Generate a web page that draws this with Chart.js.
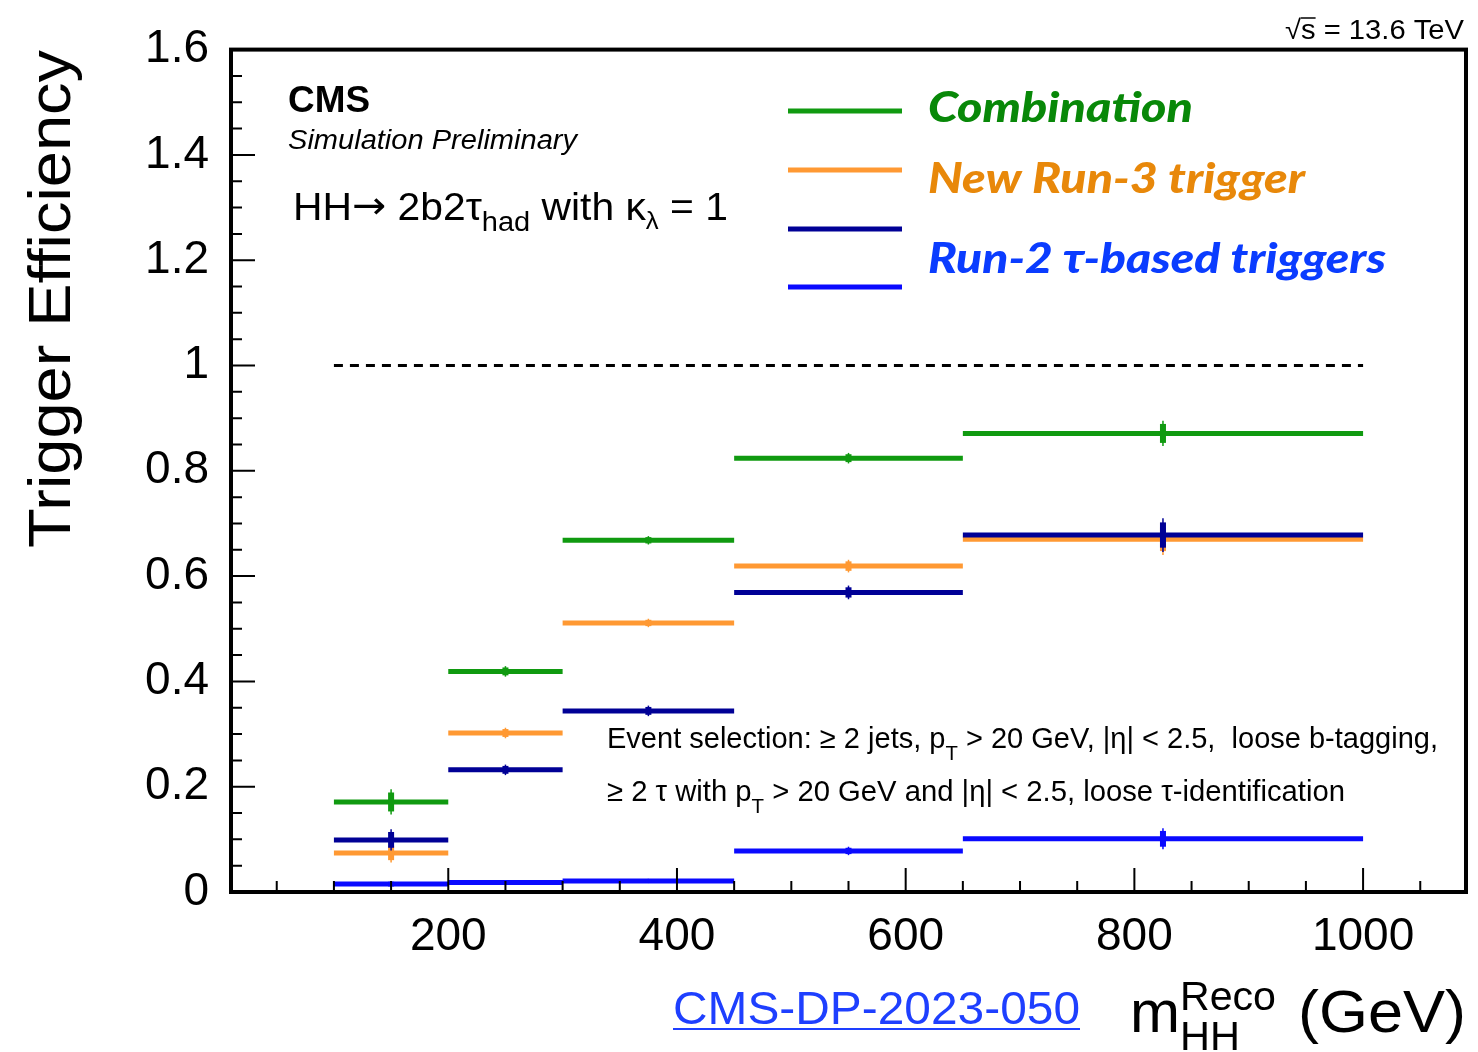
<!DOCTYPE html>
<html>
<head>
<meta charset="utf-8">
<script src="https://cdn.jsdelivr.net/npm/chart.js@4.4.0/dist/chart.umd.min.js"></script>
<style>
  html, body { margin: 0; padding: 0; background: #fff; }
  canvas { display: block; }
</style>
</head>
<body>
<canvas id="trigEff" width="1478" height="1052"></canvas>
<script>
// m_HH bin edges (GeV)
const binEdges = [100, 200, 300, 450, 650, 1000];

// efficiencies per bin
const combination = [0.171, 0.419, 0.668, 0.824, 0.871];
const newRun3     = [0.074, 0.302, 0.511, 0.619, 0.670];
const run2Dark    = [0.099, 0.232, 0.344, 0.569, 0.678];
const run2Tau     = [0.015, 0.018, 0.021, 0.078, 0.101];

// stat. uncertainties per bin
const combinationErr = [0.024, 0.010, 0.008, 0.010, 0.024];
const newRun3Err     = [0.018, 0.010, 0.008, 0.012, 0.030];
const run2DarkErr    = [0.020, 0.010, 0.010, 0.013, 0.032];
const run2TauErr     = [0.006, 0.004, 0.004, 0.008, 0.020];

const unity = 1;
const xRange = [10, 1090];
const yRange = [0, 1.6];

const green = '#109a10';
const orange = '#ff9933';
const navy = '#000096';
const blue = '#0a0aff';

// turn bins into step segments, broken with nulls between bins
function steps(vals) {
  const pts = [];
  vals.forEach((v, i) => {
    pts.push({x: binEdges[i], y: v});
    pts.push({x: binEdges[i + 1], y: v});
    pts.push({x: binEdges[i + 1], y: null});
  });
  return pts;
}

function histo(label, vals, errs, color, order) {
  return {
    label: label,
    data: steps(vals),
    errs: errs,
    vals: vals,
    borderColor: color,
    borderWidth: 5,
    borderCapStyle: 'butt',
    pointRadius: 0,
    tension: 0,
    spanGaps: false,
    order: order
  };
}

const sans = '"Liberation Sans", Arial, Helvetica, sans-serif';

// error bars for each histogram, drawn right after its line
const errorBars = {
  id: 'errorBars',
  afterDatasetDraw(chart, args) {
    const ds = chart.data.datasets[args.index];
    if (!ds.errs) return;
    const {ctx, scales: {x, y}} = chart;
    ctx.save();
    ctx.strokeStyle = ds.borderColor;
    ctx.fillStyle = ds.borderColor;
    ds.vals.forEach((v, i) => {
      const cx = x.getPixelForValue((binEdges[i] + binEdges[i + 1]) / 2);
      const e = ds.errs[i];
      const yHi = y.getPixelForValue(v + e), yLo = y.getPixelForValue(v - e);
      ctx.lineWidth = 1.5;
      ctx.beginPath();
      ctx.moveTo(cx, yHi);
      ctx.lineTo(cx, yLo);
      ctx.stroke();
      const iHi = y.getPixelForValue(v + 0.75 * e), iLo = y.getPixelForValue(v - 0.75 * e);
      ctx.fillRect(cx - 3, iHi, 6, iLo - iHi);
    });
    ctx.restore();
  }
};

// draws text segments (with sub/superscripts), optionally squeezed to a width
function rich(ctx, segs, x, y, width, align) {
  let total = 0;
  segs.forEach(s => { ctx.font = s.font; s.w = ctx.measureText(s.t).width; total += s.w; });
  const sx = width ? width / total : 1;
  ctx.save();
  let x0 = x;
  if (align === 'right') x0 = x - total * sx;
  ctx.translate(x0, y);
  ctx.scale(sx, 1);
  ctx.textAlign = 'left';
  ctx.textBaseline = 'alphabetic';
  let cx = 0;
  segs.forEach(s => {
    ctx.font = s.font;
    ctx.fillStyle = s.color || '#000';
    ctx.fillText(s.t, cx, s.dy || 0);
    if (s.over) {
      ctx.lineWidth = 1.5;
      ctx.strokeStyle = ctx.fillStyle;
      ctx.beginPath();
      ctx.moveTo(cx, s.over);
      ctx.lineTo(cx + s.w, s.over);
      ctx.stroke();
    }
    cx += s.w;
  });
  ctx.restore();
  return total * sx;
}

// frame, inward ticks, legend and annotations
const decor = {
  id: 'decor',
  afterDraw(chart) {
    const {ctx, chartArea: a, scales: {x, y}} = chart;
    ctx.save();
    ctx.strokeStyle = '#000';

    // ticks
    ctx.lineWidth = 2;
    ctx.beginPath();
    for (let v = 50; v < xRange[1]; v += 50) {
      const px = x.getPixelForValue(v);
      const len = v % 200 === 0 ? 24 : 11;
      ctx.moveTo(px, a.bottom);
      ctx.lineTo(px, a.bottom - len);
    }
    for (let k = 1; k < 32; k++) {
      const py = y.getPixelForValue(k * 0.05);
      const len = k % 4 === 0 ? 24 : 11;
      ctx.moveTo(a.left, py);
      ctx.lineTo(a.left + len, py);
    }
    ctx.stroke();

    // frame
    ctx.lineWidth = 4;
    ctx.strokeRect(a.left, a.top, a.right - a.left, a.bottom - a.top);

    // legend
    const legend = [
      {color: green, text: 'Combination', tc: '#088808', ty: 122, tw: 265},
      {color: orange, text: 'New Run-3 trigger', tc: '#e8880a', ty: 193, tw: 377},
      {color: navy},
      {color: blue, text: 'Run-2 \u03c4-based triggers', tc: '#0a3cff', ty: 273, tw: 458}
    ];
    const ly = [111, 170, 229, 287];
    legend.forEach((l, i) => {
      ctx.strokeStyle = l.color;
      ctx.lineWidth = 5;
      ctx.beginPath();
      ctx.moveTo(788, ly[i]);
      ctx.lineTo(902, ly[i]);
      ctx.stroke();
      if (l.text) {
        rich(ctx, [{t: l.text, font: 'italic 900 42px Lato, "Open Sans", sans-serif', color: l.tc}], 928, l.ty, l.tw);
      }
    });

    // CMS label
    rich(ctx, [{t: 'CMS', font: 'bold 37px ' + sans}], 288, 112, 82);
    rich(ctx, [{t: 'Simulation Preliminary', font: 'italic 27px ' + sans}], 288, 149, 289);
    rich(ctx, [
      {t: 'HH', font: '38px ' + sans},
      {t: '\u2192', font: '38px "DejaVu Sans", sans-serif', dy: -2},
      {t: ' 2b2\u03c4', font: '38px ' + sans},
      {t: 'had', font: '27px ' + sans, dy: 11},
      {t: ' with \u03ba', font: '38px ' + sans},
      {t: '\u03bb', font: '24px ' + sans, dy: 9},
      {t: ' = 1', font: '38px ' + sans}
    ], 293, 220, 435);

    // selection text
    const f1 = '30px ' + sans, f2 = '21px ' + sans;
    rich(ctx, [
      {t: 'Event selection: \u2265 2 jets, p', font: f1},
      {t: 'T', font: f2, dy: 12},
      {t: ' > 20 GeV, |\u03b7| < 2.5,  loose b-tagging,', font: f1}
    ], 607, 748, 831);
    rich(ctx, [
      {t: '\u2265 2 \u03c4 with p', font: f1},
      {t: 'T', font: f2, dy: 12},
      {t: ' > 20 GeV and |\u03b7| < 2.5, loose \u03c4-identification', font: f1}
    ], 607, 801, 738);

    // energy
    rich(ctx, [
      {t: '\u221a', font: '27px ' + sans},
      {t: 's', font: '27px ' + sans, over: -21},
      {t: ' = 13.6 TeV', font: '27px ' + sans}
    ], 1285, 39, 179);

    // y title
    ctx.save();
    ctx.translate(70, 548);
    ctx.rotate(-Math.PI / 2);
    rich(ctx, [{t: 'Trigger Efficiency', font: '60px ' + sans}], 0, 0, 498);
    ctx.restore();

    // x title and reference
    const lw = rich(ctx, [{t: 'CMS-DP-2023-050', font: '46px ' + sans, color: '#1e3fff'}], 673, 1024, 407);
    ctx.strokeStyle = '#1e3fff';
    ctx.lineWidth = 2;
    ctx.beginPath();
    ctx.moveTo(673, 1029);
    ctx.lineTo(673 + lw, 1029);
    ctx.stroke();

    const mx = 1130, by = 1032;
    ctx.font = '60px ' + sans;
    ctx.fillStyle = '#000';
    ctx.textAlign = 'left';
    ctx.fillText('m', mx, by);
    const mw = ctx.measureText('m').width;
    rich(ctx, [{t: 'Reco', font: '40px ' + sans}], mx + mw, by - 22, 96);
    rich(ctx, [{t: 'HH', font: '40px ' + sans}], mx + mw, by + 18, 60);
    rich(ctx, [{t: '(GeV)', font: '60px ' + sans}], 1466, by, 168, 'right');

    ctx.restore();
  }
};

new Chart(document.getElementById('trigEff'), {
  type: 'line',
  data: {
    datasets: [
      histo('Combination', combination, combinationErr, green, 1),
      histo('Run-2 (dark)', run2Dark, run2DarkErr, navy, 2),
      histo('New Run-3 trigger', newRun3, newRun3Err, orange, 3),
      histo('Run-2 \u03c4-based triggers', run2Tau, run2TauErr, blue, 4),
      {
        label: 'unity',
        data: [{x: binEdges[0], y: unity}, {x: binEdges[binEdges.length - 1], y: unity}],
        borderColor: '#000',
        borderWidth: 3,
        borderDash: [9, 7],
        pointRadius: 0,
        order: 5
      }
    ]
  },
  options: {
    responsive: false,
    animation: false,
    devicePixelRatio: 1,
    layout: { padding: { top: 49, right: 12, left: 0, bottom: 0 } },
    plugins: { legend: { display: false }, tooltip: { enabled: false } },
    scales: {
      x: {
        type: 'linear',
        min: xRange[0],
        max: xRange[1],
        afterBuildTicks(scale) {
          scale.ticks = [200, 400, 600, 800, 1000].map(v => ({value: v}));
        },
        afterFit(scale) { scale.height = 160; },
        grid: { display: false, drawTicks: false },
        border: { display: false },
        ticks: {
          autoSkip: false,
          maxRotation: 0,
          padding: 18,
          color: '#000',
          font: { family: 'Liberation Sans', size: 46 },
          callback: v => String(v)
        }
      },
      y: {
        min: yRange[0],
        max: yRange[1],
        afterBuildTicks(scale) {
          scale.ticks = [0, 0.2, 0.4, 0.6, 0.8, 1, 1.2, 1.4, 1.6].map(v => ({value: v}));
        },
        afterFit(scale) { scale.width = 231; },
        grid: { display: false, drawTicks: false },
        border: { display: false },
        ticks: {
          autoSkip: false,
          padding: 22,
          color: '#000',
          font: { family: 'Liberation Sans', size: 46 },
          callback: v => String(+v.toFixed(1))
        }
      }
    }
  },
  plugins: [errorBars, decor]
});
</script>
</body>
</html>
